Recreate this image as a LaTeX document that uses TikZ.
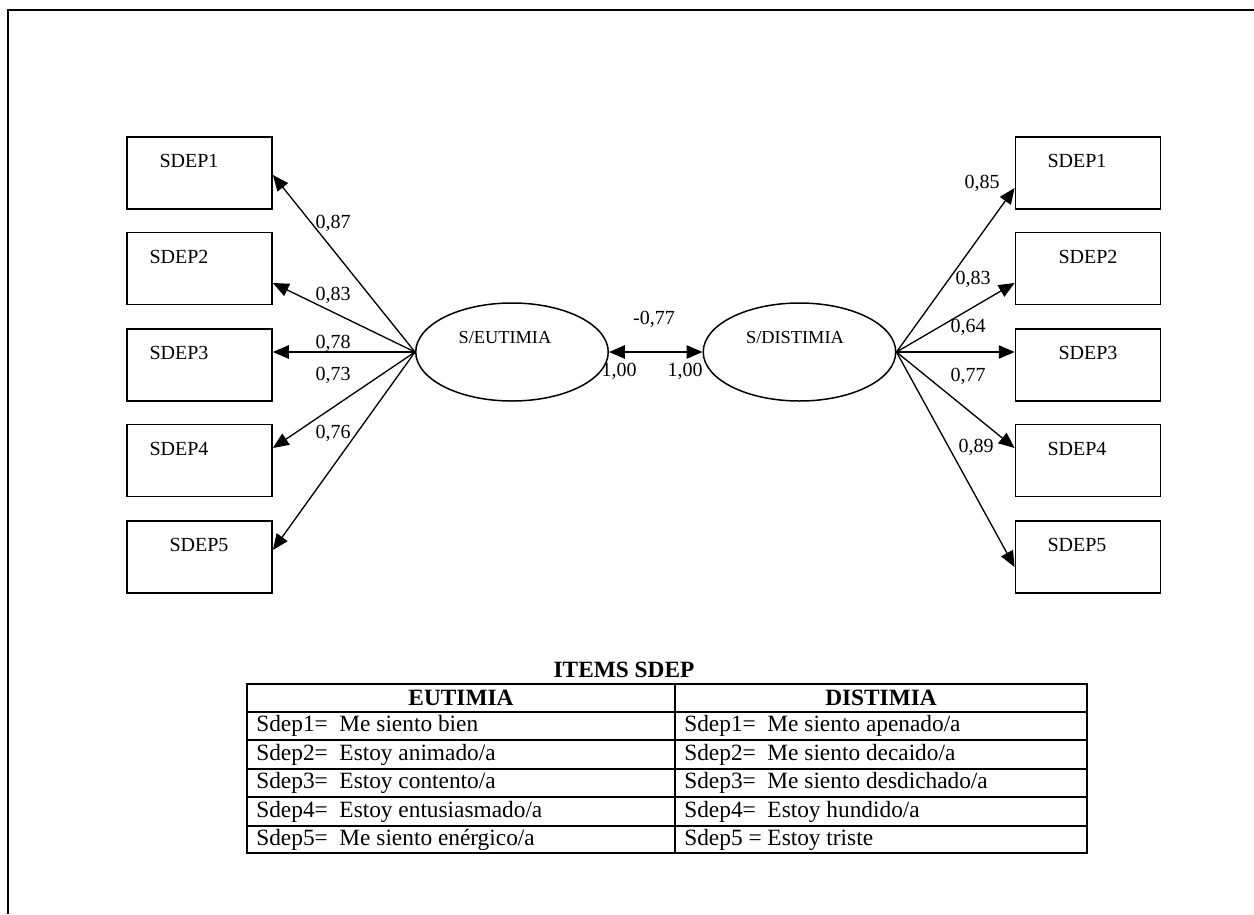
\documentclass[tikz,border=0pt]{standalone}
\usepackage{fontspec}
\setmainfont{Liberation Serif}
\usetikzlibrary{arrows.meta,shapes.geometric,calc}
\tikzset{
  obs/.style={draw,line width=1.1pt,minimum width=87pt,minimum height=43.2pt,inner sep=0pt},
  lat/.style={draw,ellipse,line width=0.9pt,minimum width=115.5pt,minimum height=58.8pt,inner sep=0pt},
  txt/.style={inner sep=0pt,font=\fontsize{12}{14}\selectfont},
  ltxt/.style={inner sep=0pt,font=\fontsize{11}{13}\selectfont},
  coef/.style={inner sep=0pt,font=\fontsize{12}{14}\selectfont},
  arr/.style={line width=0.8pt,-{Triangle[length=9.5pt,width=8pt]}},
  darr/.style={line width=0.8pt,{Triangle[length=9.5pt,width=8pt]}-{Triangle[length=9.5pt,width=8pt]}},
  tline/.style={line width=1pt},
  ttxt/.style={inner sep=0pt,anchor=west,font=\fontsize{14}{16}\selectfont},
  thead/.style={inner sep=0pt,font=\fontsize{14}{16}\selectfont\bfseries},
}
\begin{document}
\begin{tikzpicture}[x=0.6pt,y=-0.6pt]
\useasboundingbox (0,0) rectangle (1254,914);
% outer frame (top and left)
\draw[line width=1.2pt] (8,914) -- (8,10) -- (1254,10);

% left boxes
\node[obs] (L1) at (199.5,173) {};
\node[obs] (L2) at (199.5,268.5) {};
\node[obs] (L3) at (199.5,365) {};
\node[obs] (L4) at (199.5,460.5) {};
\node[obs] (L5) at (199.5,557) {};
\node[txt] (L1t) at (189,161) {SDEP1};
\node[txt] (L2t) at (179,257) {SDEP2};
\node[txt] (L3t) at (179,353) {SDEP3};
\node[txt] (L4t) at (179,449) {SDEP4};
\node[txt] (L5t) at (199,545) {SDEP5};

% right boxes
\node[obs] (R1) at (1088,173) {};
\node[obs] (R2) at (1088,268.5) {};
\node[obs] (R3) at (1088,365) {};
\node[obs] (R4) at (1088,460.5) {};
\node[obs] (R5) at (1088,557) {};
\node[txt] (R1t) at (1077,161) {SDEP1};
\node[txt] (R2t) at (1088,257) {SDEP2};
\node[txt] (R3t) at (1088,353) {SDEP3};
\node[txt] (R4t) at (1077,449) {SDEP4};
\node[txt] (R5t) at (1077,545) {SDEP5};

% latent variables
\node[lat] (E) at (512,352) {};
\node[lat] (D) at (799.5,352) {};
\node[ltxt] (Et) at (505,338) {S/EUTIMIA};
\node[ltxt] (Dt) at (795,338) {S/DISTIMIA};

% left loadings
\draw[arr] (E.west) -- ($(L1.east)+(0,2)$);
\draw[arr] (E.west) -- ($(L2.east)+(0,14.5)$);
\draw[arr] (E.west) -- ($(L3.east)+(0,-13)$);
\draw[arr] (E.west) -- ($(L4.east)+(0,-12.5)$);
\draw[arr] (E.west) -- ($(L5.east)+(0,-7)$);

% right loadings
\draw[arr] (D.east) -- ($(R1.west)+(0,15)$);
\draw[arr] (D.east) -- ($(R2.west)+(0,14.5)$);
\draw[arr] (D.east) -- ($(R3.west)+(0,-13)$);
\draw[arr] (D.east) -- ($(R4.west)+(0,-12.5)$);
\draw[arr] (D.east) -- ($(R5.west)+(0,10)$);

% correlation
\draw[darr] (E.east) -- (D.west);

% coefficients
\node[coef] (c1) at (333,223) {0,87};
\node[coef] (c2) at (333,295) {0,83};
\node[coef] (c3) at (333,343) {0,78};
\node[coef] (c4) at (333,375) {0,73};
\node[coef] (c5) at (333,433) {0,76};
\node[coef] (d1) at (982,183) {0,85};
\node[coef] (d2) at (973,279) {0,83};
\node[coef] (d3) at (968,327) {0,64};
\node[coef] (d4) at (968,376) {0,77};
\node[coef] (d5) at (976,447) {0,89};
\node[coef] (r) at (654,319) {-0,77};
\node[coef] (v1) at (619,371) {1,00};
\node[coef] (v2) at (685,371) {1,00};

% table
\node[thead] (title) at (624,670) {ITEMS SDEP};
\draw[tline] (247,684) rectangle (1087,853);
\foreach \yy in {712,740,769,797,826} \draw[tline] (247,\yy) -- (1087,\yy);
\draw[tline] (675,684) -- (675,853);
\node[thead] (h1) at (461,698) {EUTIMIA};
\node[thead] (h2) at (881,698) {DISTIMIA};
\node[ttxt] (e1) at (256,726) {Sdep1=\ \ Me siento bien};
\node[ttxt] (e2) at (256,754.5) {Sdep2=\ \ Estoy animado/a};
\node[ttxt] (e3) at (256,783) {Sdep3=\ \ Estoy contento/a};
\node[ttxt] (e4) at (256,811.5) {Sdep4=\ \ Estoy entusiasmado/a};
\node[ttxt] (e5) at (256,839.5) {Sdep5=\ \ Me siento enérgico/a};
\node[ttxt] (s1) at (684,726) {Sdep1=\ \ Me siento apenado/a};
\node[ttxt] (s2) at (684,754.5) {Sdep2=\ \ Me siento decaido/a};
\node[ttxt] (s3) at (684,783) {Sdep3=\ \ Me siento desdichado/a};
\node[ttxt] (s4) at (684,811.5) {Sdep4=\ \ Estoy hundido/a};
\node[ttxt] (s5) at (684,839.5) {Sdep5 = Estoy triste};
\end{tikzpicture}
\end{document}
